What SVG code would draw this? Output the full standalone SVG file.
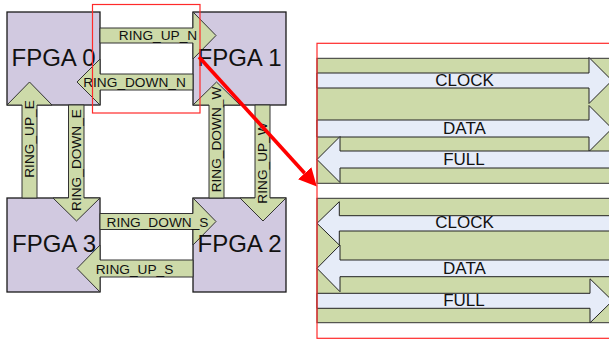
<svg xmlns="http://www.w3.org/2000/svg" width="609" height="341" viewBox="0 0 609 341">
  <style>
    .fpga { fill: #d1c9e0; stroke: #1a1a1a; stroke-width: 1.3; }
    .bus { fill: #cddaa9; stroke: #333; stroke-width: 1; stroke-linejoin: miter; }
    .sig { fill: #e6ecf8; stroke: #222; stroke-width: 1; stroke-linejoin: miter; }
    .band { fill: #cddaa9; stroke: #333; stroke-width: 1; }
    .big { font-family: "Liberation Sans", Arial, sans-serif; font-size: 24px; fill: #111; text-anchor: middle; }
    .lbl { font-family: "Liberation Sans", Arial, sans-serif; font-size: 13.7px; fill: #111; text-anchor: middle; }
    .sigtxt { font-family: "Liberation Sans", Arial, sans-serif; font-size: 17px; fill: #111; text-anchor: middle; }
    .zoom { fill: none; stroke: #ff2a2a; stroke-width: 1.2; }
  </style>
  <defs>
    <marker id="redhead" markerUnits="userSpaceOnUse" markerWidth="18" markerHeight="18" viewBox="0 0 18 18" refX="0" refY="9" orient="auto">
      <path d="M0,0 L18,9 L0,18 Z" fill="#ff0000"/>
    </marker>
  </defs>
  <rect width="609" height="341" fill="#ffffff"/>

  <!-- FPGA boxes -->
  <g id="fpga0"><rect class="fpga" x="7" y="12" width="93" height="93"/></g>
  <g id="fpga1"><rect class="fpga" x="193" y="12" width="93" height="93"/></g>
  <g id="fpga3"><rect class="fpga" x="7" y="198" width="93" height="94"/></g>
  <g id="fpga2"><rect class="fpga" x="193" y="198" width="93" height="94"/></g>

  <!-- ring links between the FPGAs -->
  <g id="connectors">
    <g id="ring_up_n">
      <polygon class="bus" points="100,28 193,28 193,12 216,35.5 193,59 193,43 100,43"/>
      <text class="lbl" x="158" y="40">RING_UP_N</text>
    </g>
    <g id="ring_down_n">
      <polygon class="bus" points="193,74 100,74 100,59 77,82 100,105 100,90 193,90"/>
      <text class="lbl" x="134.5" y="87">RING_DOWN_N</text>
    </g>
    <g id="ring_down_s">
      <polygon class="bus" points="100,213.5 193,213.5 193,198 216,221.5 193,245 193,229.5 100,229.5"/>
      <text class="lbl" x="157.5" y="226.5">RING_DOWN_S</text>
    </g>
    <g id="ring_up_s">
      <polygon class="bus" points="193,260 100,260 100,245 77,268.5 100,292 100,277 193,277"/>
      <text class="lbl" x="134.5" y="273.5">RING_UP_S</text>
    </g>
    <g id="ring_up_e">
      <polygon class="bus" points="22,198 22,105 7,105 29.5,82 52,105 37,105 37,198"/>
      <text class="lbl" transform="translate(29.5,139) rotate(-90)" x="0" y="4.9">RING_UP_E</text>
    </g>
    <g id="ring_down_e">
      <polygon class="bus" points="68.5,105 68.5,198 53,198 76.5,221 100,198 84,198 84,105"/>
      <text class="lbl" transform="translate(76.25,160) rotate(-90)" x="0" y="4.9">RING_DOWN_E</text>
    </g>
    <g id="ring_down_w">
      <polygon class="bus" points="209,198 209,105 193,105 216.5,82 240,105 224,105 224,198"/>
      <text class="lbl" transform="translate(216.5,139.5) rotate(-90)" x="0" y="4.9">RING_DOWN_W</text>
    </g>
    <g id="ring_up_w">
      <polygon class="bus" points="255,105 255,198 240,198 263,221 286,198 270,198 270,105"/>
      <text class="lbl" transform="translate(262.5,163) rotate(-90)" x="0" y="4.9">RING_UP_W</text>
    </g>
  </g>

  <!-- FPGA names, printed over the arrow heads -->
  <g id="fpga-labels">
    <text class="big" x="53.5" y="66">FPGA 0</text>
    <text class="big" x="239.5" y="66">FPGA 1</text>
    <text class="big" x="54" y="252">FPGA 3</text>
    <text class="big" x="239.5" y="252">FPGA 2</text>
  </g>

  <!-- expanded view of one link pair: signal lanes -->
  <g id="detail-north">
    <rect class="band" x="317" y="58.3" width="310" height="125"/>
    <polygon class="sig" points="317,73 589,73 589,57.5 612,80.5 589,103.5 589,88 317,88"/>
    <polygon class="sig" points="317,120 589,120 589,105.5 612,128.5 589,151.5 589,137 317,137"/>
    <polygon class="sig" points="620,151 340,151 340,136.5 317,159.5 340,182.5 340,168 620,168"/>
    <text class="sigtxt" x="464.5" y="86">CLOCK</text>
    <text class="sigtxt" x="464.5" y="134">DATA</text>
    <text class="sigtxt" x="464" y="165">FULL</text>
  </g>
  <g id="detail-south">
    <rect class="band" x="317" y="198.3" width="310" height="124.4"/>
    <polygon class="sig" points="620,215.7 339.3,215.7 339.3,201.7 317,223.3 339.3,245 339.3,231 620,231"/>
    <polygon class="sig" points="620,260 340,260 340,245 317,268.3 340,291.7 340,276.7 620,276.7"/>
    <polygon class="sig" points="317,293.3 590,293.3 590,278.8 612.5,300.8 590,322.8 590,308.3 317,308.3"/>
    <text class="sigtxt" x="464.5" y="228.3">CLOCK</text>
    <text class="sigtxt" x="464.5" y="274.3">DATA</text>
    <text class="sigtxt" x="464" y="306">FULL</text>
  </g>

  <!-- highlight frames and pointer -->
  <rect class="zoom" x="92.5" y="4.5" width="107.5" height="108.5"/>
  <rect class="zoom" x="317" y="43.3" width="300" height="295"/>
  <line x1="199" y1="57" x2="304.7" y2="173.3" stroke="#ff0000" stroke-width="3.6" marker-end="url(#redhead)"/>
</svg>
